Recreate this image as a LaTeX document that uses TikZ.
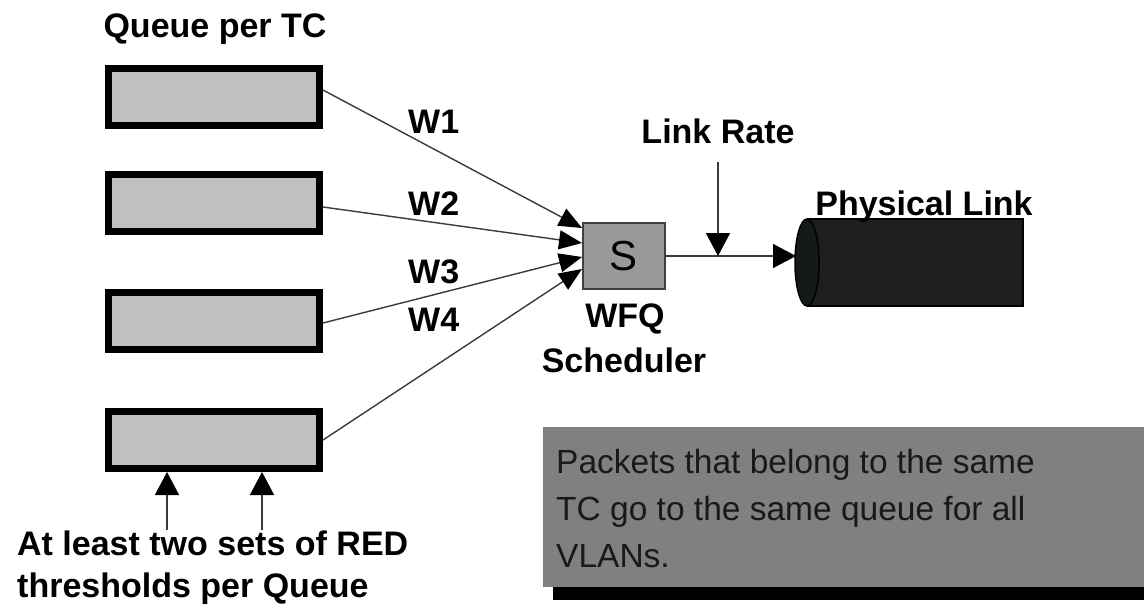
\documentclass[tikz,border=0pt]{standalone}
\usepackage{fontspec}
\setmainfont{Liberation Sans}
\usetikzlibrary{arrows.meta}

\definecolor{queuefill}{HTML}{C0C0C0}
\definecolor{schedfill}{HTML}{9A9A9A}
\definecolor{notefill}{HTML}{808082}
\definecolor{cylbody}{HTML}{1E1E1E}
\definecolor{cylface}{HTML}{161A16}
\definecolor{wire}{HTML}{3A3A3A}

\begin{document}
\begin{tikzpicture}[x=1pt,y=-1pt,
  queue/.style={draw=black, line width=7pt, fill=queuefill,
    minimum width=211pt, minimum height=57pt, inner sep=0pt},
  sched/.style={draw=black!75, line width=2pt, fill=schedfill,
    minimum width=82pt, minimum height=66pt, inner sep=0pt,
    font=\fontsize{42}{42}\selectfont},
  lbl/.style={font=\fontsize{34}{34}\selectfont\bfseries, inner sep=0pt},
  notetext/.style={font=\fontsize{33.5}{40}\selectfont, text=black!90, inner sep=0pt},
  feed/.style={draw=wire, line width=1.4pt,
    -{Triangle[length=23pt,width=19pt,color=black]}},
  tip/.style={draw=wire, line width=1.6pt,
    -{Triangle[length=23pt,width=24pt,color=black]}}
]
\useasboundingbox (0,0) rectangle (1144,608);

% queues, one per traffic class
\node[queue] (q1) at (214,97)  {};
\node[queue] (q2) at (214,203) {};
\node[queue] (q3) at (214,321) {};
\node[queue] (q4) at (214,440) {};
\node[lbl, anchor=base] (qlbl) at (215,37) {Queue per TC};

% WFQ scheduler
\node[sched] (S) at (624,256) {S};
\node[lbl, anchor=base] (wfq) at (625,327) {WFQ};
\node[lbl, anchor=base] (schedlbl) at (624,372) {Scheduler};

% weighted inputs
\draw[feed] ([yshift=7pt]q1.east)  -- ([yshift=28pt]S.west);
\draw[feed] ([yshift=-4pt]q2.east) -- ([yshift=13pt]S.west);
\draw[feed] ([yshift=-2pt]q3.east) -- ([yshift=-1pt]S.west);
\draw[feed] (q4.east)              -- ([yshift=-13pt]S.west);
\node[lbl, anchor=base west] (w1) at (408,133) {W1};
\node[lbl, anchor=base west] (w2) at (408,215) {W2};
\node[lbl, anchor=base west] (w3) at (408,283) {W3};
\node[lbl, anchor=base west] (w4) at (408,331) {W4};

% physical link drawn as a cylinder
\fill[cylbody] (807,219) rectangle (1023,306);
\draw[black, line width=1.5pt] (807,219) -- (1023,219) -- (1023,306) -- (807,306);
\draw[black, line width=1.5pt, fill=cylface] (807,262.5) ellipse [x radius=12, y radius=43.5];
\coordinate (linkin) at (796,256);
\node[lbl, anchor=base] (phys) at (924,215) {Physical Link};

\draw[tip] (S.east) -- (linkin);

% link rate marker
\coordinate (ratetop) at (718,162);
\draw[tip] (ratetop) -- (ratetop |- S.east);
\node[lbl, anchor=base] (rate) at (718,143) {Link Rate};

% RED thresholds on the last queue
\coordinate (red1) at (167,530);
\coordinate (red2) at (262,530);
\draw[tip] (red1) -- (red1 |- q4.south);
\draw[tip] (red2) -- (red2 |- q4.south);
\node[lbl, anchor=base west] (redl1) at (17,555) {At least two sets of RED};
\node[lbl, anchor=base west] (redl2) at (17,597) {thresholds per Queue};

% note with drop shadow
\fill[black] (553,440) rectangle (1160,600);
\node[fill=notefill, anchor=north west, minimum width=617pt, minimum height=160pt,
  inner sep=0pt] (note) at (543,427) {};
\node[notetext, anchor=base west] (n1) at (556,473) {Packets that belong to the same};
\node[notetext, anchor=base west] (n2) at (556,520) {TC go to the same queue for all};
\node[notetext, anchor=base west] (n3) at (556,567) {VLANs.};
\end{tikzpicture}
\end{document}
